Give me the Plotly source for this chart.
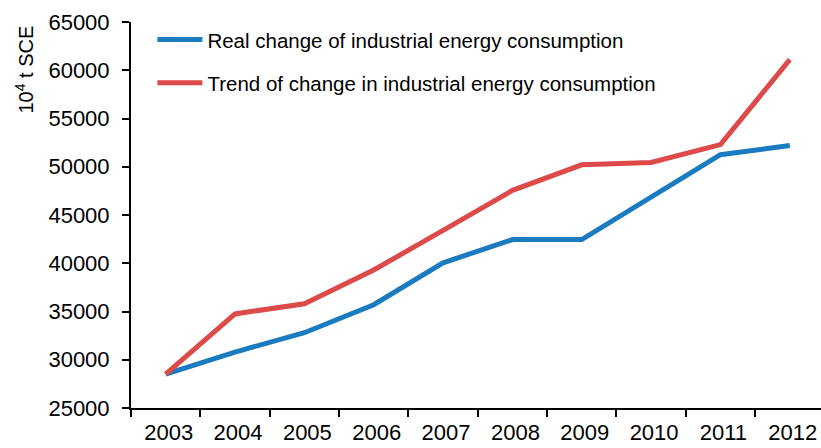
import plotly.graph_objects as go

years = ["2003", "2004", "2005", "2006", "2007", "2008", "2009", "2010", "2011", "2012"]
real_change = [28500, 30800, 32800, 35700, 40050, 42450, 42450, 46900, 51250, 52200]
trend_change = [28500, 34750, 35800, 39300, 43400, 47550, 50200, 50450, 52300, 61100]
y_ticks = [25000, 30000, 35000, 40000, 45000, 50000, 55000, 60000, 65000]
y_tick_labels = ["25000", "30000", "35000", "40000", "45000", "50000", "55000", "60000", "65000"]

FONT = "Liberation Sans, Arial, sans-serif"

fig = go.Figure()
fig.add_trace(go.Scatter(x=years, y=real_change, mode="lines",
                         name="Real change of industrial energy consumption",
                         line=dict(color="#1b7bc0", width=5), legendgroup="a"))
fig.add_trace(go.Scatter(x=years, y=trend_change, mode="lines",
                         name="Trend of change in industrial energy consumption",
                         line=dict(color="#dc4a4a", width=5), legendgroup="b"))

fig.update_layout(
    width=821, height=448,
    margin=dict(l=131, r=0, t=22, b=40, autoexpand=False),
    paper_bgcolor="white", plot_bgcolor="white",
    font=dict(family=FONT, color="black", size=21),
    showlegend=True,
    legend=dict(x=0.031, y=1.006, xanchor="left", yanchor="top",
                font=dict(size=20.5, family=FONT), tracegroupgap=13.6,
                traceorder="grouped", bgcolor="rgba(0,0,0,0)", itemwidth=45),
    xaxis=dict(type="category", range=[-0.5, 9.45], showgrid=False,
               automargin=False,
               showline=True, linecolor="black", linewidth=2,
               ticks="outside", tickson="boundaries", ticklen=7, tickwidth=2,
               tickcolor="black", tickfont=dict(size=22, family=FONT),
               ticklabelshift=3, ticklabelstandoff=4),
    yaxis=dict(range=[25000, 65000], tickvals=y_ticks, ticktext=y_tick_labels,
               showgrid=False, automargin=False,
               zeroline=False, showline=True, linecolor="black", linewidth=2,
               ticks="outside", ticklen=7, tickwidth=2, tickcolor="black",
               tickfont=dict(size=22, family=FONT), ticklabelstandoff=8),
    annotations=[dict(text="10<sup>4</sup> t SCE", xref="paper", yref="paper",
                      x=-0.155, y=0.877, xanchor="center", yanchor="middle",
                      textangle=-90, showarrow=False,
                      font=dict(size=20, family=FONT))],
)

fig.write_html("out.html", config={"displayModeBar": False},
               post_script="document.body.style.margin='0';document.body.style.overflow='hidden';")
